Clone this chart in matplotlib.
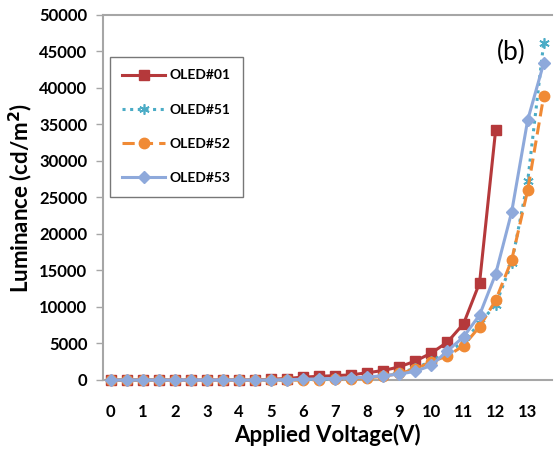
import numpy as np
import matplotlib.pyplot as plt
plt.switch_backend("Agg")

#### data ######################################################################

volts = [i * 0.5 for i in range(28)]   # 0 .. 13.5 V
tick_labels = [str(int(v)) if v == int(v) else '' for v in volts]

oled01 = [0, 0, 0, 0, 0, 0, 0, 0, 0, 0, 100, 200, 400, 500, 600, 700, 1000, 1300,
          1800, 2600, 3700, 5200, 7700, 13300, 34200, np.nan, np.nan, np.nan]
oled51 = [0, 0, 0, 0, 0, 0, 0, 0, 0, 0, 0, 0, 50, 100, 150, 250, 350, 550,
          1000, 1600, 2600, 3800, 5200, 7800, 10300, 16000, 27200, 46200]
oled52 = [0, 0, 0, 0, 0, 0, 0, 0, 0, 0, 0, 0, 0, 50, 100, 200, 300, 500,
          900, 1500, 2500, 3300, 4700, 7300, 10900, 16400, 26000, 38900]
oled53 = [0, 0, 0, 0, 0, 0, 0, 0, 0, 0, 0, 50, 100, 150, 200, 300, 400, 600,
          800, 1200, 2000, 4000, 5900, 8900, 14500, 23000, 35600, 43400]

#### plot ######################################################################

plt.rcParams['font.family'] = ['Lato', 'DejaVu Sans']

fig = plt.figure(figsize=(5.54, 4.54), dpi=100)
ax = fig.add_axes([0.1854, 0.163, 0.8105, 0.804])

x = np.arange(len(volts))
ax.plot(x, oled01, c='#B5393B', lw=2.2, marker='s', ms=7, label='OLED#01',
        zorder=3, clip_on=False)
ax.plot(x, oled51, c='#4BACC6', lw=2.2, ls=(0, (1, 1.5)), marker=(6, 2, 0), ms=7.5,
        mew=1.2, label='OLED#51', zorder=4, clip_on=False)
ax.plot(x, oled52, c='#F08A35', lw=2.2, ls=(0, (4, 2)), marker='o', ms=7.5,
        label='OLED#52', zorder=5, clip_on=False)
ax.plot(x, oled53, c='#8EA9DB', lw=2.2, marker='D', ms=6, label='OLED#53',
        zorder=6, clip_on=False)

ax.set_xlim(-0.5, len(volts) - 0.5)
ax.set_ylim(0, 50000)
ax.set_xticks(x)
ax.set_xticklabels(tick_labels, fontsize=12, fontweight='bold')
ax.tick_params(axis='x', length=0, pad=17)
ax.set_yticks(range(0, 50001, 5000))
ax.set_yticklabels([str(v) for v in range(0, 50001, 5000)], fontsize=12, fontweight='bold')
ax.tick_params(axis='y', length=5, width=1, color='#A6A6A6', pad=6)

for s in ['left', 'bottom', 'top']:
    ax.spines[s].set_color('#A6A6A6')
    ax.spines[s].set_linewidth(1.5)
ax.spines['right'].set_visible(False)

ax.set_xlabel('Applied Voltage(V)', fontsize=16, fontweight='bold', labelpad=3)
ax.set_ylabel('Luminance (cd/m$^\\mathbf{2}$)', fontsize=16, fontweight='bold', labelpad=3)

ax.text(0.878, 0.896, '(b)', transform=ax.transAxes, fontsize=19, va='center')

leg = ax.legend(loc='upper left', bbox_to_anchor=(0.016, 0.885),
                prop={'weight': 'bold', 'size': 10}, frameon=True, fancybox=False,
                edgecolor='#555555', handlelength=3.1, labelspacing=1.6,
                borderpad=0.9, handletextpad=0.3, borderaxespad=0)
leg.get_frame().set_linewidth(1.0)

fig.savefig('out.png', dpi=100)
plt.close()
